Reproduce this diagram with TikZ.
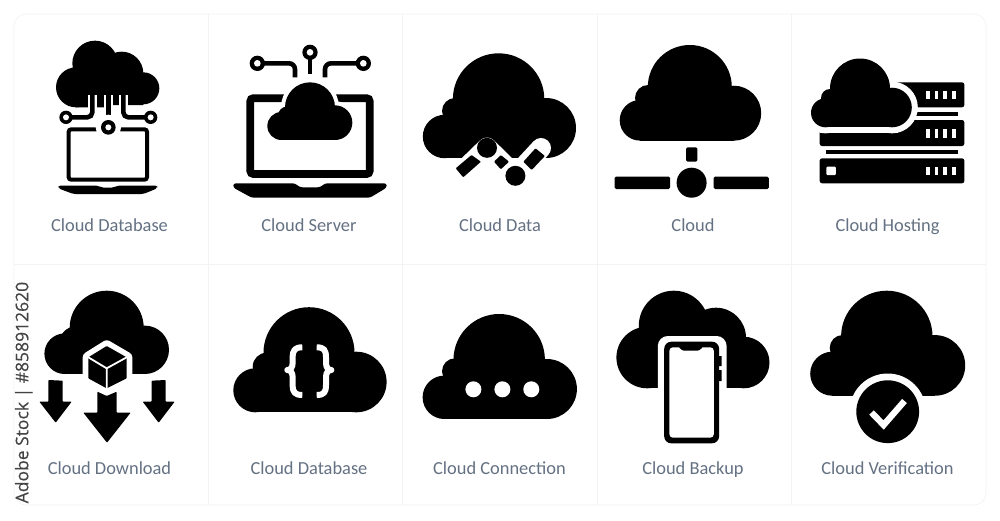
\documentclass[tikz,border=0pt]{standalone}
\usepackage{fontspec}
\setmainfont{Carlito}
\newfontfamily\sidefont[FakeBold=0.4]{Open Sans}
\definecolor{labelc}{HTML}{647183}
\definecolor{framec}{HTML}{F3F3F3}
\definecolor{sidec}{HTML}{444444}
\newcommand\blobs[2]{\foreach \bx/\by/\br in {#1}{\fill[black] (\bx,\by) circle (\br);}\fill[black] #2;}
\newcommand\halos[3]{\foreach \bx/\by/\br in {#2}{\draw[white,line width=#1] (\bx,\by) circle (\br);}\draw[white,line width=#1] #3;}
\tikzset{
  lab/.style={text=labelc,font=\fontsize{18.4}{22}\selectfont,inner sep=0pt,anchor=base},
  zoomA/.style={shift={(30,20)},scale=1/3},
  zoomC/.style={shift={(0,270)},scale=1/3},
  framel/.style={framec,line width=.7pt},
  softc/.style={rounded corners=.7pt},
}
\begin{document}
\begin{tikzpicture}[x=1pt,y=-1pt]
\useasboundingbox (0,0) rectangle (1000,520);
\fill[white] (0,0) rectangle (1000,520);
% frame
\draw[framel,rounded corners=12pt] (14,14) rectangle (986,505);
\draw[framel] (208,14) -- (208,505) (402.5,14) -- (402.5,505) (597,14) -- (597,505) (791,14) -- (791,505) (14,264) -- (986,264);
% labels
\node[lab] (l1) at (109.5,231) {Cloud Database};
\node[lab] (l2) at (309,231) {Cloud Server};
\node[lab] (l3) at (500,231) {Cloud Data};
\node[lab] (l4) at (693,231) {Cloud};
\node[lab] (l5) at (887.5,231) {Cloud Hosting};
\node[lab] (l6) at (109.5,474) {Cloud Download};
\node[lab] (l7) at (309,474) {Cloud Database};
\node[lab] (l8) at (499.5,474) {Cloud Connection};
\node[lab] (l9) at (693,474) {Cloud Backup};
\node[lab] (l10) at (887.5,474) {Cloud Verification};
\node[text=sidec,font=\sidefont\fontsize{17.5}{20}\selectfont,rotate=90,inner sep=0pt,anchor=base west] (side) at (28.3,503.5) {Adobe Stock | \#858912620};
% icon 1
\begin{scope}[zoomA]
  \blobs{195/130/68,275/160/65,340/205/48,138/202/60}{(138,165) rectangle (340,255) (138,240) rectangle (240,262)}
  \draw[white,line width=9.5pt] (187,225) -- (187,275) (235,225) -- (235,300) (280,225) -- (280,275);
  \draw[black,line width=4.6pt,rounded corners=5pt] (108,292) -- (187,292) -- (187,210);
  \draw[black,line width=4.6pt,rounded corners=5pt] (362,292) -- (280,292) -- (280,210);
  \draw[black,line width=4.6pt] (235,210) -- (235,322);
  \draw[black,line width=4pt,rounded corners=2.5pt] (116,328) rectangle (351,479);
  \fill[white] (235,322) circle (38);
  \foreach \cx/\cy/\ro/\ri in {108/292/20/9,362/292/20/9,235/322/22/9}{\fill[black] (\cx,\cy) circle (\ro);\fill[white] (\cx,\cy) circle (\ri);}
  \fill[black,rounded corners=2pt] (85,497) -- (205,497) -- (215,503) -- (250,503) -- (262,497) -- (382,497) -- (382,505) -- (340,522) -- (130,522) -- (85,505) -- cycle;
\end{scope}
% icon 2
\begin{scope}[zoomA]
  \draw[black,line width=7.7pt,rounded corners=3pt] (661,234.5) rectangle (1019,462);
  \halos{8pt}{840/262/75,754/318/42,915/308/52,770/285/25}{(754,300) rectangle (915,360)}
  \blobs{840/262/75,754/318/42,915/308/52,770/285/25}{(754,280) rectangle (915,360)}
  \draw[black,line width=4.6pt,rounded corners=6pt] (682,130) -- (795,130) -- (795,172);
  \draw[black,line width=4.6pt,rounded corners=6pt] (1000,130) -- (885,130) -- (885,172);
  \draw[black,line width=4.6pt] (840,97) -- (840,162);
  \foreach \cx in {682,1000}{\fill[black] (\cx,130) circle (23);\fill[white] (\cx,130) circle (10);}
  \fill[black] (840,97) circle (23);\fill[white] (840,97) circle (10);
  \fill[black,rounded corners=2.5pt] (610,490) -- (795,490) -- (810,502) -- (870,502) -- (885,490) -- (1070,490) -- (1070,503) -- (1020,533) -- (665,533) -- (610,503) -- cycle;
\end{scope}
% icon 3
\blobs{498.6/99/45.7,455/111/13,444.5/136.5/21.7,546/128/30}{(444.5,115) rectangle (546,158)}
\draw[white,line width=20pt,line join=round,line cap=round] (468,166) -- (487,147.5) -- (515.5,175.5) -- (541,148);
\fill[white] (450,159) rectangle (550,195);
\fill[black] (487,147.8) circle (10);
\fill[black] (515.4,175.8) circle (10);
\fill[black,rounded corners=.8pt] (455.7,168.3) -- (463.2,177.3) -- (480.9,161.7) -- (471.5,155) -- cycle;
\fill[black,rounded corners=.8pt] (523.4,161.7) -- (531.7,170) -- (544.9,156) -- (535.5,148.3) -- cycle;
\fill[black,rounded corners=.8pt] (500.8,155) -- (509,161.7) -- (500.8,169.3) -- (494,161.7) -- cycle;
% icon 4
\blobs{689.8/87/42,648/98/13,640/120.3/20.3,733.7/113.2/27.5}{(640,100) rectangle (733.7,140.7)}
\fill[black,rounded corners=1.5pt] (686,147.3) rectangle (697.3,161.7);
\fill[black] (691.6,182.7) circle (15);
\fill[black,rounded corners=1.5pt] (614.5,176.7) rectangle (670.2,189);
\fill[black,rounded corners=1.5pt] (713.5,176.7) rectangle (768.8,189);
% icon 5
\fill[black,rounded corners=2.5pt] (890,82.3) rectangle (964.4,107.3);
\fill[black,rounded corners=2.5pt] (819.6,120) rectangle (964.4,146);
\fill[black,rounded corners=2.5pt] (819.6,158.3) rectangle (964.4,183.3);
\fill[black] (890,111.7) rectangle (958,116);
\fill[black] (826.3,150) rectangle (958,154);
\halos{12pt}{860/88.5/30,830/98/9,825.5/112.8/14.5,892/107.5/19.8}{(825.5,100) rectangle (892,127.3)}
\blobs{860/88.5/30,830/98/9,825.5/112.8/14.5,892/107.5/19.8}{(825.5,99) rectangle (892,127.3)}
\foreach \dy in {90.5,129,166.7}{\foreach \dx in {928,936.3,945,954}{\fill[white] (\dx-1.7,\dy) rectangle (\dx+1.7,\dy+8.5);}}
\fill[white,rounded corners=1pt] (826.3,166.7) rectangle (835.8,175);
% icon 6
\blobs{106.7/327.7/37,75/341.7/15,64.7/353.7/20.3,144.8/349.8/24.2}{(64.7,336) rectangle (144.8,374)}
\begin{scope}[zoomC]
  \fill[white,rounded corners=3pt] (320,208) -- (397,253) -- (397,337) -- (320,380) -- (248,337) -- (248,253) -- cycle;
  \fill[black,softc] (320,228) -- (380,262) -- (380,325) -- (320,355) -- (265,325) -- (265,262) -- cycle;
  \draw[white,line width=1.8pt] (265,262) -- (320,295) -- (380,262) (320,295) -- (320,358);
  \fill[black,softc] (145,330) -- (188,332) -- (188,395) -- (215,395) -- (167,458) -- (118,395) -- (145,395) -- cycle;
  \fill[black,softc] (292,365) -- (320,378) -- (350,365) -- (350,428) -- (392,428) -- (321,518) -- (250,428) -- (292,428) -- cycle;
  \fill[black,softc] (455,332) -- (497,330) -- (497,395) -- (524,395) -- (476,458) -- (428,395) -- (455,395) -- cycle;
\end{scope}
% icon 7
\blobs{309/352.7/45.5,266.7/366.7/14,255.3/390.3/22,356.3/382/30.3}{(255.3,370) rectangle (356.3,412.3)}
\begin{scope}[zoomC]
  \draw[white,line width=6pt,line join=round] (907,232) .. controls (885,232) and (878,240) .. (878,262) -- (878,278) .. controls (878,292) and (872,300) .. (862,300) .. controls (872,300) and (878,308) .. (878,322) -- (878,345) .. controls (878,367) and (885,375) .. (907,375);
  \draw[white,line width=6pt,line join=round] (950,232) .. controls (972,232) and (978,240) .. (978,262) -- (978,278) .. controls (978,292) and (984,300) .. (994,300) .. controls (984,300) and (978,308) .. (978,322) -- (978,345) .. controls (978,367) and (972,375) .. (950,375);
\end{scope}
% icon 8
\blobs{499.2/359.7/45.7,455/371.3/13,444.3/397.3/21.7,546.9/389/30}{(444.3,376) rectangle (546.9,419)}
\foreach \dx in {473.4,502.4,531.3}{\fill[white] (\dx,389.3) circle (8);}
% icon 9
\blobs{673.8/325.7/35,716/337.7/30,743.7/362.5/25.8,647.2/357.5/30.8}{(647.2,340) rectangle (743.7,388.3)}
\fill[white,rounded corners=10pt] (657.8,336) rectangle (726.6,445);
\fill[black] (719,356) rectangle (721.5,366) (719,370) rectangle (721.5,381);
\fill[black,rounded corners=7pt] (664.2,341.7) rectangle (719.1,443.3);
\fill[white,rounded corners=3.5pt] (669.4,347.3) rectangle (713.8,437.7);
\fill[black,rounded corners=1pt] (678.5,347) -- (703,347) -- (699,350.5) -- (682.5,350.5) -- cycle;
% icon 10
\blobs{886.8/336.4/45.7,842.7/348/13,832.2/373.7/22,934.9/365.4/30.3}{(832.2,352) rectangle (934.9,395.7)}
\fill[white] (887.7,411.7) circle (38.2);
\fill[black] (887.7,411.7) circle (31.4);
\draw[white,line width=6.3pt] (871.5,412.5) -- (883.6,425) -- (904.5,401);
\end{tikzpicture}
\end{document}
